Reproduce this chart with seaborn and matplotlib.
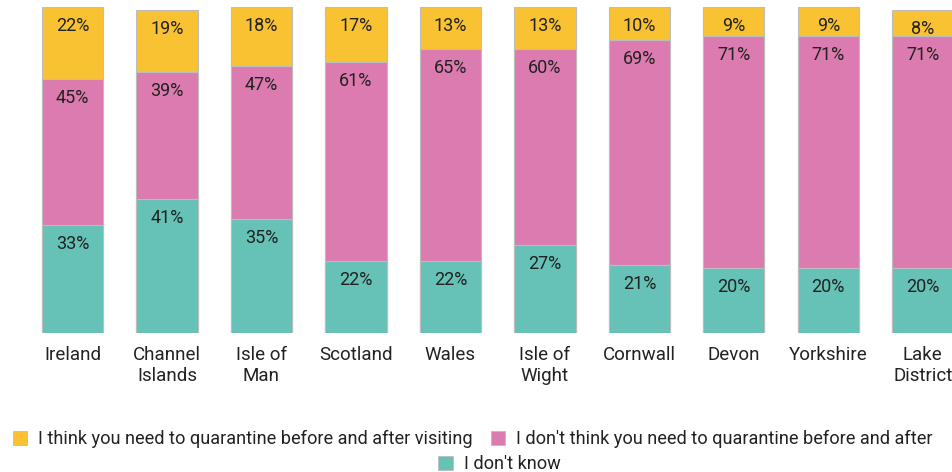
import matplotlib
matplotlib.use("Agg")
import matplotlib.pyplot as plt
from matplotlib.patches import Patch
import numpy as np
import pandas as pd
import seaborn as sns

# Survey data: share of respondents per destination
destinations = ["Ireland", "Channel\nIslands", "Isle of\nMan", "Scotland", "Wales",
                "Isle of\nWight", "Cornwall", "Devon", "Yorkshire", "Lake\nDistrict"]
dont_know = [33, 41, 35, 22, 22, 27, 21, 20, 20, 20]
no_quarantine = [45, 39, 47, 61, 65, 60, 69, 71, 71, 71]
quarantine = [22, 19, 18, 17, 13, 13, 10, 9, 9, 8]

series_labels = [
    "I think you need to quarantine before and after visiting",
    "I don't think you need to quarantine before and after",
    "I don't know",
]

c_yellow = "#F9C232"
c_pink = "#DC7BAF"
c_teal = "#66C1B6"
edge = "#BDBDBD"
text_col = "#222222"

sns.set_theme(style="white")
plt.rcParams["font.family"] = ["Roboto", "DejaVu Sans"]

df = pd.DataFrame({
    "destination": destinations,
    "dont_know": dont_know,
    "no_quarantine": no_quarantine,
    "quarantine": quarantine,
})
df["lvl1"] = df["dont_know"]
df["lvl2"] = df["dont_know"] + df["no_quarantine"]
df["lvl3"] = df["lvl2"] + df["quarantine"]

fig = plt.figure(figsize=(9.53, 4.72), dpi=100)
W, H = 953, 472
ax = fig.add_axes([0, (H - 333) / H, 1, (333 - 7) / H])

# Stacked bars drawn as overlapping cumulative totals, tallest first
for col, color in [("lvl3", c_yellow), ("lvl2", c_pink), ("lvl1", c_teal)]:
    sns.barplot(data=df, x="destination", y=col, color=color, width=0.65,
                edgecolor=edge, linewidth=0.8, saturation=1, ax=ax, order=destinations)

# Percent labels just inside the top of each segment
for i in range(len(destinations)):
    for top, val in [(df["lvl1"][i], dont_know[i]),
                     (df["lvl2"][i], no_quarantine[i]),
                     (df["lvl3"][i], quarantine[i])]:
        ax.annotate(f"{val}%", xy=(i, top), xytext=(0, -19), textcoords="offset pixels",
                    ha="center", va="center", fontsize=13, color=text_col)

spacing = 94.47
left_center = 72.5
ax.set_xlim(-left_center / spacing, (W - left_center) / spacing)
ax.set_ylim(0, 100)
ax.set_xlabel("")
ax.set_ylabel("")
ax.set_yticks([])
for s in ax.spines.values():
    s.set_visible(False)
ax.tick_params(axis="x", length=0, pad=9, labelsize=13.5, labelcolor=text_col)
for lbl in ax.get_xticklabels():
    lbl.set_linespacing(1.25)

handles = [Patch(facecolor=c, edgecolor=edge, linewidth=0.6) for c in (c_yellow, c_pink, c_teal)]
leg_kw = dict(frameon=False, fontsize=13.1, handlelength=0.78, handleheight=0.78,
              handletextpad=0.6, columnspacing=1.0, labelcolor=text_col)
fig.legend(handles[:2], series_labels[:2], loc="center", bbox_to_anchor=(0.496, (H - 439) / H),
           ncol=2, **leg_kw)
fig.legend(handles[2:], series_labels[2:], loc="center", bbox_to_anchor=(0.524, (H - 464) / H),
           ncol=1, **leg_kw)

fig.savefig("out.png", dpi=100)
